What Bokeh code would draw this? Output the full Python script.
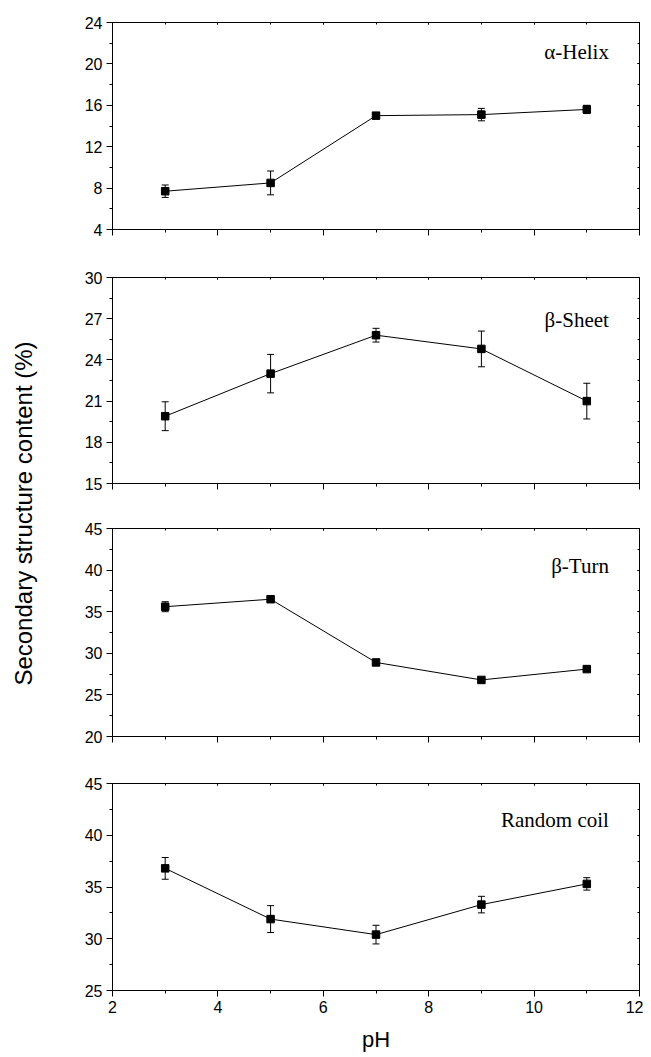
import math
import numpy as np
from bokeh.plotting import figure
from bokeh.models import (Range1d, LinearAxis, SingleIntervalTicker, Label,
                          Whisker, TeeHead, ColumnDataSource)
from bokeh.layouts import row, column
from bokeh.embed import file_html
from bokeh.resources import INLINE

# ---------------- data ----------------
ph = [3, 5, 7, 9, 11]

helix = [7.7, 8.5, 15.0, 15.1, 15.6]
helix_err = [0.6, 1.15, 0.2, 0.6, 0.4]

sheet = [19.9, 23.0, 25.8, 24.8, 21.0]
sheet_err = [1.05, 1.4, 0.5, 1.3, 1.3]

turn = [35.6, 36.5, 28.9, 26.8, 28.1]
turn_err = [0.6, 0.2, 0.35, 0.25, 0.3]

coil = [36.8, 31.9, 30.4, 33.3, 35.3]
coil_err = [1.05, 1.3, 0.9, 0.8, 0.6]

panel_names = ["\u03b1-Helix", "\u03b2-Sheet", "\u03b2-Turn", "Random coil"]
y_limits = [(4, 24), (15, 30), (20, 45), (25, 45)]
y_intervals = [4, 3, 5, 5]
x_limits = (2, 12)
x_interval = 2

y_title = "Secondary structure content (%)"
x_title = "pH"

# ---------------- layout (styles) ----------------
series = [(helix, helix_err), (sheet, sheet_err), (turn, turn_err), (coil, coil_err)]
tops = [22, 24, 23, 23]
frames = [207, 206, 208, 207]
bottoms = [24, 22, 24, 66]
label_frac = [0.142, 0.204, 0.178, 0.176]  # label baseline, fraction from top of frame

TICK_FONT = "Liberation Sans"
panels = []
for i in range(4):
    ylo, yhi = y_limits[i]
    vals, errs = series[i]
    h = tops[i] + frames[i] + bottoms[i]
    p = figure(width=595, height=h, output_backend="svg", toolbar_location=None,
               x_range=Range1d(*x_limits), y_range=Range1d(ylo, yhi),
               min_border_left=64, min_border_right=4,
               min_border_top=tops[i], min_border_bottom=bottoms[i])
    p.grid.visible = False
    p.outline_line_color = "black"
    p.outline_line_width = 1
    p.background_fill_color = "white"
    p.border_fill_color = "white"

    xt = SingleIntervalTicker(interval=x_interval, num_minor_ticks=2)
    yt = SingleIntervalTicker(interval=y_intervals[i], num_minor_ticks=2)

    xa = p.xaxis[0]
    xa.ticker = xt
    ya = p.yaxis[0]
    ya.ticker = yt
    for ax in (xa, ya):
        ax.axis_line_color = "black"
        ax.major_tick_line_color = "black"
        ax.minor_tick_line_color = "black"
        ax.major_tick_out = 6
        ax.major_tick_in = 0
        ax.minor_tick_out = 3
        ax.minor_tick_in = 0
        ax.major_label_text_font = TICK_FONT
        ax.major_label_text_font_size = "16px"
        ax.major_label_text_color = "black"
        ax.major_label_standoff = 4
    if i < 3:
        xa.major_label_text_font_size = "0px"
        xa.major_label_standoff = 0
    else:
        xa.axis_label = x_title
        xa.axis_label_text_font = TICK_FONT
        xa.axis_label_text_font_size = "22px"
        xa.axis_label_text_font_style = "normal"
        xa.axis_label_text_color = "black"
        xa.axis_label_standoff = 11

    top_ax = LinearAxis(ticker=xt, major_label_text_font_size="0px",
                        major_label_standoff=0, axis_line_color=None,
                        major_tick_in=2, major_tick_out=0,
                        minor_tick_in=2, minor_tick_out=0)
    right_ax = LinearAxis(ticker=yt, major_label_text_font_size="0px",
                          major_label_standoff=0, axis_line_color=None,
                          major_tick_in=2, major_tick_out=0,
                          minor_tick_in=2, minor_tick_out=0)
    p.add_layout(top_ax, "above")
    p.add_layout(right_ax, "right")

    lower = [v - e for v, e in zip(vals, errs)]
    upper = [v + e for v, e in zip(vals, errs)]
    src = ColumnDataSource(dict(x=ph, y=vals, lower=lower, upper=upper))

    p.line("x", "y", source=src, line_color="black", line_width=1)
    w = Whisker(source=src, base="x", lower="lower", upper="upper",
                line_color="black", line_width=1,
                upper_head=TeeHead(size=7, line_color="black", line_width=1),
                lower_head=TeeHead(size=7, line_color="black", line_width=1))
    p.add_layout(w)
    p.scatter("x", "y", source=src, marker="square", size=7.5,
              fill_color="black", line_color="black")

    ly = yhi - label_frac[i] * (yhi - ylo)
    p.add_layout(Label(x=11.42, y=ly, text=panel_names[i], text_align="right",
                       text_baseline="alphabetic", text_font="Liberation Serif",
                       text_font_size="21px", text_color="black"))
    panels.append(p)

total_h = sum(tops) + sum(frames) + sum(bottoms)
lab = figure(width=48, height=total_h, output_backend="svg", toolbar_location=None,
             x_range=Range1d(0, 1), y_range=Range1d(0, 1),
             x_axis_type=None, y_axis_type=None,
             min_border_left=0, min_border_right=0, min_border_top=0, min_border_bottom=0)
lab.grid.visible = False
lab.outline_line_color = None
lab.add_layout(Label(x=22.5 / 48, y=(total_h - 513) / total_h, text=y_title,
                     angle=math.pi / 2, text_align="center", text_baseline="middle",
                     text_font=TICK_FONT, text_font_size="24px", text_color="black"))

layout = row(lab, column(*panels, spacing=0), spacing=0)
open("out.html", "w").write(file_html(layout, INLINE))
